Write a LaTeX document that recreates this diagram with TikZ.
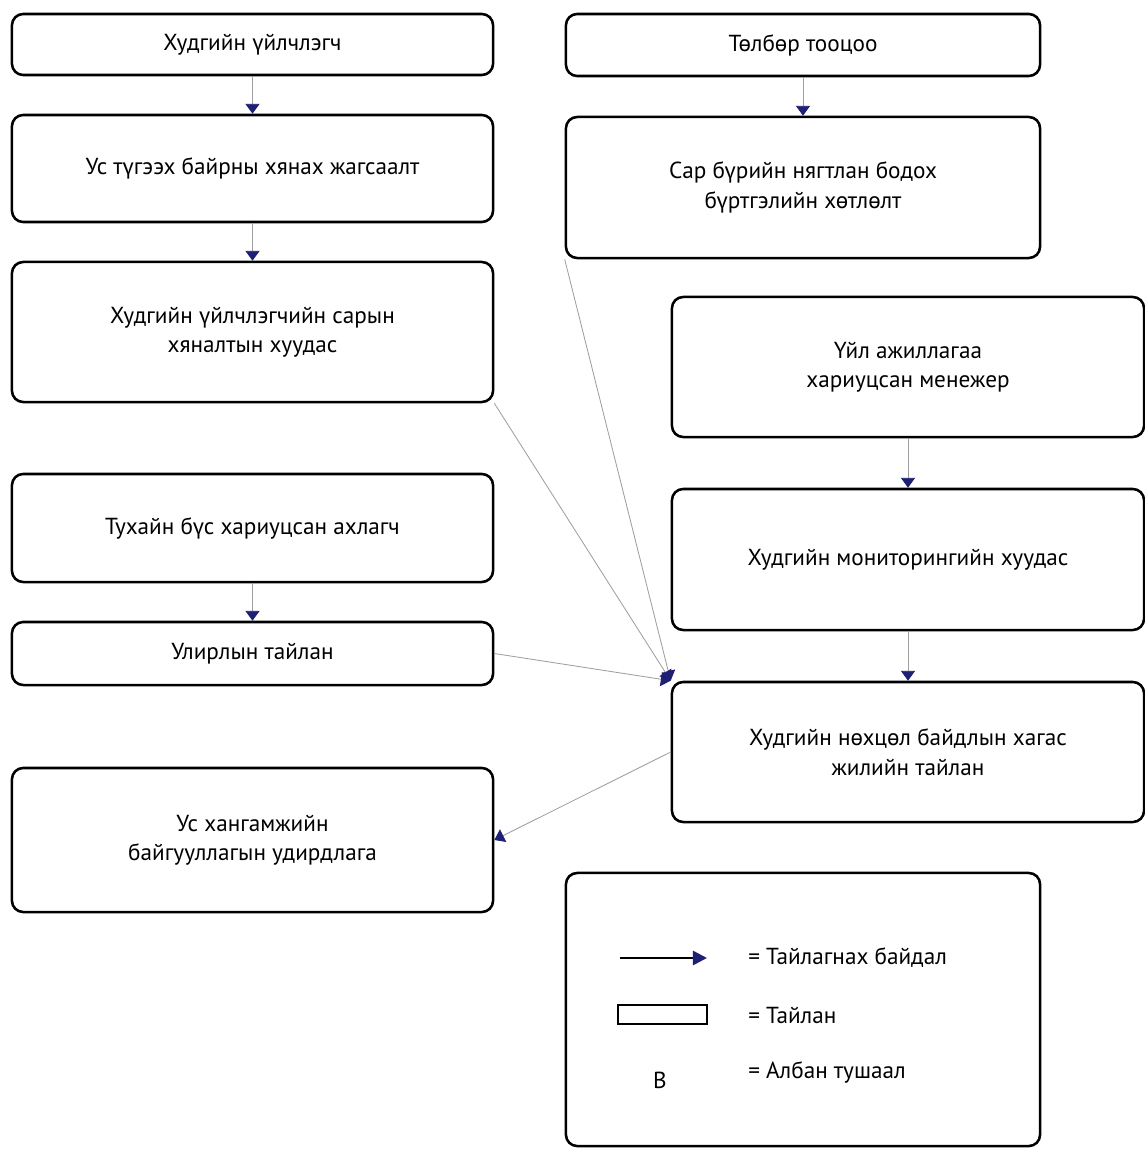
\documentclass[tikz,border=0pt]{standalone}
\usepackage{fontspec}
\setmainfont{PT Sans}
\usetikzlibrary{arrows.meta}
\definecolor{tipblue}{RGB}{30,32,115}

\begin{document}
\begin{tikzpicture}[x=0.025cm,y=-0.025cm,
    box/.style={draw,line width=1.8pt,rounded corners=8pt,align=center,inner sep=0pt,
      font=\fontsize{16.5}{21}\selectfont},
    flow/.style={draw=gray!75,line width=0.6pt,-{Triangle[width=10pt,length=7pt,color=tipblue]}},
    legtext/.style={anchor=west,inner sep=0pt,font=\fontsize{16.5}{21}\selectfont}]
    \useasboundingbox (0,0) rectangle (1144,1149);
    %\draw[lightgray,ultra thin] (0,0) grid[step=2cm] (1144,1149);
    % left column
    \node[box,minimum width=12.025cm,minimum height=1.525cm] (hu) at (252.5,44.5) {Худгийн үйлчлэгч};
    \node[box,minimum width=12.025cm,minimum height=2.675cm] (us) at (252.5,168.5) {Ус түгээх байрны хянах жагсаалт};
    \node[box,minimum width=12.025cm,minimum height=3.5cm] (sar) at (252.5,332) {Худгийн үйлчлэгчийн сарын\\хяналтын хуудас};
    \node[box,minimum width=12.025cm,minimum height=2.7cm] (ahl) at (252.5,528) {Тухайн бүс хариуцсан ахлагч};
    \node[box,minimum width=12.025cm,minimum height=1.575cm] (uli) at (252.5,653.5) {Улирлын тайлан};
    \node[box,minimum width=12.025cm,minimum height=3.6cm] (udi) at (252.5,840) {Ус хангамжийн\\байгууллагын удирдлага};
    % right column
    \node[box,minimum width=11.85cm,minimum height=1.55cm] (tol) at (803,45) {Төлбөр тооцоо};
    \node[box,minimum width=11.85cm,minimum height=3.525cm] (nya) at (803,187.5) {Сар бүрийн нягтлан бодох\\бүртгэлийн хөтлөлт};
    \node[box,minimum width=11.8cm,minimum height=3.5cm] (men) at (908,367) {Үйл ажиллагаа\\хариуцсан менежер};
    \node[box,minimum width=11.8cm,minimum height=3.525cm] (mon) at (908,559.5) {Худгийн мониторингийн хуудас};
    \node[box,minimum width=11.8cm,minimum height=3.5cm] (hag) at (908,752) {Худгийн нөхцөл байдлын хагас\\жилийн тайлан};
    % legend
    \node[box,minimum width=11.85cm,minimum height=6.825cm] (leg) at (803,1009.5) {};
    \coordinate (la) at (620,958);
    \coordinate (lb) at (707,958);
    \draw[line width=1.8pt,-{Triangle[width=10pt,length=10pt,color=tipblue]}] (la) -- (lb);
    \draw[line width=1pt] (618,1005) rectangle (707,1024);
    \node[inner sep=0pt,font=\fontsize{16.5}{21}\selectfont] (pos) at (660,1080) {B};
    \node[legtext] (t1) at (748,958) {= Тайлагнах байдал};
    \node[legtext] (t2) at (748,1015) {= Тайлан};
    \node[legtext] (t3) at (748,1072) {= Албан тушаал};
    % connectors
    \draw[flow] (hu) -- (us);
    \draw[flow] (us) -- (sar);
    \draw[flow] (ahl) -- (uli);
    \draw[flow] (tol) -- (nya);
    \draw[flow] (men) -- (mon);
    \draw[flow] (mon) -- (hag);
    \draw[flow] (nya.south west) -- (hag.north west);
    \draw[flow] (sar.south east) -- (hag.north west);
    \draw[flow] (uli.east) -- (hag.north west);
    \draw[flow] (hag.west) -- (udi.east);
\end{tikzpicture}
\end{document}
